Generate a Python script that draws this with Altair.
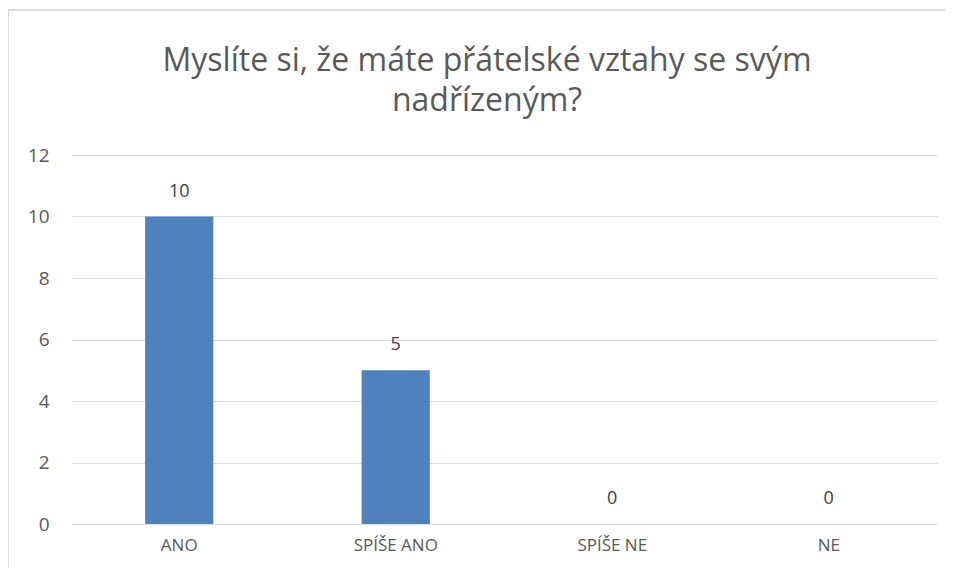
import altair as alt
import pandas as pd

categories = ["ANO", "SPÍŠE ANO", "SPÍŠE NE", "NE"]
values = [10, 5, 0, 0]
title_lines = ["Myslíte si, že máte přátelské vztahy se svým", "nadřízeným?"]

df = pd.DataFrame({"cat": categories, "val": values})

base = alt.Chart(df).encode(
    x=alt.X("cat:N", sort=categories, title=None,
            scale=alt.Scale(paddingInner=0.685, paddingOuter=0.3425),
            axis=alt.Axis(labelAngle=0, labelFontSize=17, labelColor="#595959",
                          labelFont="Open Sans", labelPadding=13, ticks=False,
                          domain=True, domainColor="#d9d9d9", grid=False)),
    y=alt.Y("val:Q", title=None,
            scale=alt.Scale(domain=[0, 12]),
            axis=alt.Axis(values=[0, 2, 4, 6, 8, 10, 12], labelFontSize=19,
                          labelColor="#595959", labelFont="Open Sans",
                          labelPadding=22, ticks=False, domain=False,
                          gridColor="#d9d9d9", gridWidth=1)),
)

bars = base.mark_bar(color="#4f81bd")
labels = base.mark_text(dy=-20, baseline="alphabetic", fontSize=18,
                        font="Open Sans", color="#404040").encode(text="val:Q")

border = alt.Chart(df).mark_rect(fill=None, stroke="#d9d9d9", strokeWidth=1).encode(
    x=alt.value(-63), x2=alt.value(1000), y=alt.value(-145), y2=alt.value(430)
)

chart = alt.layer(border, bars, labels).properties(
    width=866, height=369,
    title=alt.TitleParams(title_lines, fontSize=32, font="Open Sans",
                          fontWeight="normal", color="#595959", frame="group",
                          anchor="middle", dx=-17, offset=-108, lineHeight=40),
    autosize=alt.AutoSizeParams(type="none"),
    padding={"left": 63, "top": 147, "right": 8, "bottom": 44},
).configure_view(stroke=None)

chart.save("out.html", embed_options={"renderer": "svg", "actions": False})
